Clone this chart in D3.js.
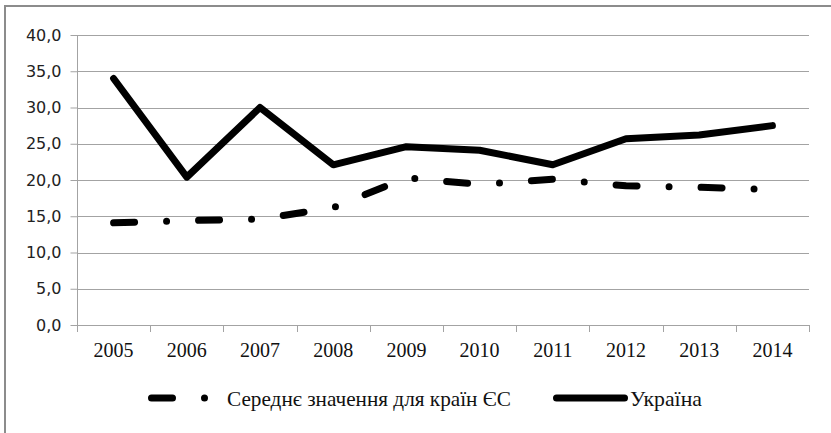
<!DOCTYPE html>
<html>
<head>
<meta charset="utf-8">
<script src="https://cdn.jsdelivr.net/npm/d3@7"></script>
<style>
  html, body { margin: 0; padding: 0; background: #fff; }
  svg { display: block; }
</style>
</head>
<body>
<svg id="chart" width="831" height="433"></svg>
<script>
const years = ["2005","2006","2007","2008","2009","2010","2011","2012","2013","2014"];
const ukraine = [34.0, 20.4, 30.0, 22.1, 24.6, 24.1, 22.1, 25.7, 26.2, 27.5];
const euAverage = [14.1, 14.4, 14.6, 16.2, 20.3, 19.4, 20.1, 19.2, 19.0, 18.7];
const yTicks = [0, 5, 10, 15, 20, 25, 30, 35, 40];
const seriesNames = ["Середнє значення для країн ЄС", "Україна"];

(function () {
const svg = d3.select("#chart");
const pLeft = 77, pRight = 809, pTop = 35, pBottom = 325;
const grid = "#a3a3a3";

// outer frame (top and left)
svg.append("line").attr("x1", 5).attr("x2", 831).attr("y1", 6).attr("y2", 6)
  .attr("stroke", "#8c8c8c").attr("stroke-width", 2);
svg.append("line").attr("x1", 5).attr("x2", 5).attr("y1", 5).attr("y2", 433)
  .attr("stroke", "#8c8c8c").attr("stroke-width", 2);

const x = d3.scaleBand().domain(years).range([pLeft, pRight]);
const y = d3.scaleLinear().domain([0, 40]).range([pBottom, pTop]);

// gridlines
svg.append("g").selectAll("line").data(yTicks.filter(d => d > 0)).join("line")
  .attr("x1", pLeft).attr("x2", pRight)
  .attr("y1", d => Math.round(y(d)) + 0.5).attr("y2", d => Math.round(y(d)) + 0.5)
  .attr("stroke", grid).attr("stroke-width", 1);

// y axis
const fmt = d => d3.format(".1f")(d).replace(".", ",");
const yAxis = svg.append("g").attr("transform", `translate(${pLeft + 0.5},0)`)
  .call(d3.axisLeft(y).tickValues(yTicks).tickFormat(fmt).tickSize(7).tickPadding(9));
yAxis.select(".domain").attr("stroke", grid).attr("d", `M0,${pTop}V${pBottom}`);
yAxis.selectAll(".tick line").attr("stroke", grid);
yAxis.selectAll(".tick text")
  .attr("font-family", "'DejaVu Sans', sans-serif").attr("font-size", 16).attr("fill", "#222");

// x axis
const xAxis = svg.append("g").attr("transform", `translate(0,${pBottom + 0.5})`)
  .call(d3.axisBottom(x).tickSize(0).tickPadding(0));
xAxis.select(".domain").attr("stroke", grid).attr("d", `M${pLeft},0H${pRight}`);
xAxis.selectAll(".tick text")
  .attr("font-family", "'Liberation Serif', 'Times New Roman', serif")
  .attr("font-size", 20).attr("fill", "#111")
  .attr("dy", null).attr("y", 24).attr("dominant-baseline", "central");
const bounds = years.map(d => x(d)).concat([x(years[years.length - 1]) + x.bandwidth()]);
svg.append("g").selectAll("line").data(bounds).join("line")
  .attr("x1", d => Math.round(d) + 0.5).attr("x2", d => Math.round(d) + 0.5)
  .attr("y1", pBottom).attr("y2", pBottom + 7)
  .attr("stroke", grid);

const line = d3.line().x((d, i) => x(years[i]) + x.bandwidth() / 2).y(d => y(d));
const dash = "21,32,0,32";

svg.append("path").datum(euAverage).attr("d", line)
  .attr("fill", "none").attr("stroke", "#000").attr("stroke-width", 7)
  .attr("stroke-linecap", "round").attr("stroke-linejoin", "round")
  .attr("stroke-dasharray", dash);

svg.append("path").datum(ukraine).attr("d", line)
  .attr("fill", "none").attr("stroke", "#000").attr("stroke-width", 7)
  .attr("stroke-linecap", "round").attr("stroke-linejoin", "round");

// legend
const ly = 398;
svg.append("line").attr("x1", 151.5).attr("x2", 212).attr("y1", ly).attr("y2", ly)
  .attr("stroke", "#000").attr("stroke-width", 7).attr("stroke-linecap", "round")
  .attr("stroke-dasharray", dash);
svg.append("line").attr("x1", 556.5).attr("x2", 624.5).attr("y1", ly).attr("y2", ly)
  .attr("stroke", "#000").attr("stroke-width", 7).attr("stroke-linecap", "round");

const legendText = [
  { name: seriesNames[0], x: 227, w: 284 },
  { name: seriesNames[1], x: 630, w: 72 }
];
svg.append("g").selectAll("text").data(legendText).join("text")
  .attr("x", 0).attr("y", 0)
  .attr("dominant-baseline", "central")
  .attr("font-family", "'Liberation Serif', 'DejaVu Serif', serif")
  .attr("font-size", 21).attr("fill", "#111")
  .text(d => d.name)
  .each(function (d) {
    const w = this.getComputedTextLength();
    const s = w > 0 ? d.w / w : 1;
    d3.select(this).attr("transform", `translate(${d.x},${ly + 1}) scale(${s},1)`);
  });
})();
</script>
</body>
</html>
